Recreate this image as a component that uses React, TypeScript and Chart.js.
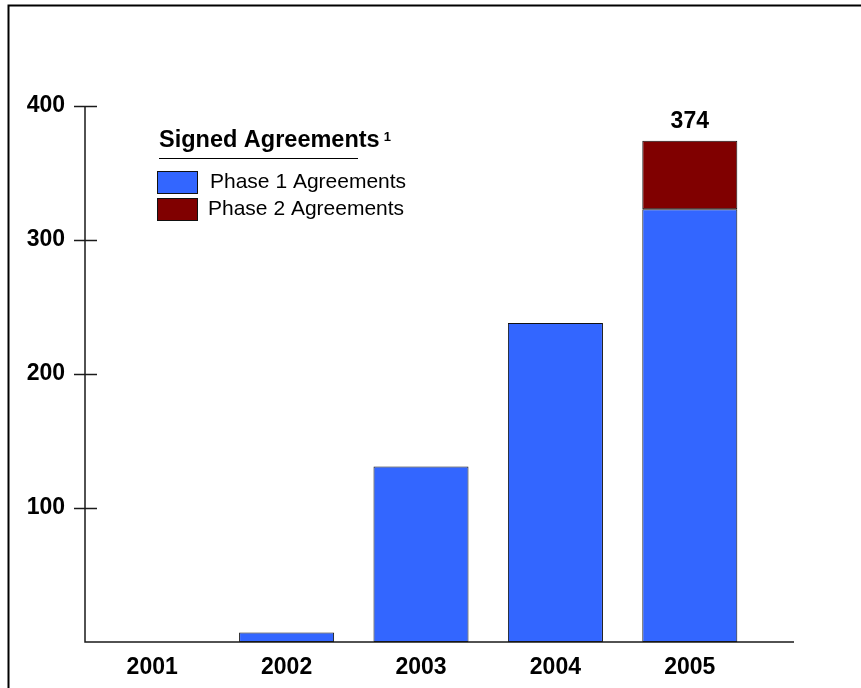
import React, { useEffect, useRef } from "react";
import { Chart, registerables } from "chart.js";

Chart.register(...registerables);

// Signed agreements per year, split by phase
const YEARS = ["2001", "2002", "2003", "2004", "2005"];
const PHASE_1 = [0, 7, 131, 238, 323];
const PHASE_2 = [null, null, null, null, 51];
const SERIES_NAMES = ["Phase 1 Agreements", "Phase 2 Agreements"];
const SERIES_COLORS = ["#3366FF", "#800000"];
const Y_MAX = 400;
const Y_STEP = 100;
const TOTAL_LABEL_INDEX = 4;
const LEGEND_TITLE = "Signed Agreements";
const LEGEND_NOTE = "1";

const FONT = '"Liberation Sans", Arial, Helvetica, sans-serif';
const W = 861;
const H = 688;

const decorPlugin = {
  id: "decor",
  afterDraw(chart: any) {
    const { ctx, chartArea, scales } = chart;
    const y = scales.y;
    const x = scales.x;
    ctx.save();

    // page frame (left and top edges)
    ctx.strokeStyle = "#000";
    ctx.lineWidth = 2;
    ctx.beginPath();
    ctx.moveTo(8.5, H);
    ctx.lineTo(8.5, 5.5);
    ctx.lineTo(W, 5.5);
    ctx.stroke();

    // axis lines, baseline runs past the last category
    ctx.strokeStyle = "#1a1a1a";
    ctx.lineWidth = 1.5;
    ctx.beginPath();
    ctx.moveTo(chartArea.left, chartArea.top);
    ctx.lineTo(chartArea.left, chartArea.bottom);
    ctx.lineTo(chartArea.right + 37, chartArea.bottom);
    ctx.stroke();

    // tick marks crossing the value axis
    ctx.lineWidth = 1.5;
    y.ticks.forEach((t: any) => {
      if (t.value === 0) return;
      const py = Math.round(y.getPixelForValue(t.value)) + 0.5;
      ctx.beginPath();
      ctx.moveTo(chartArea.left - 11, py);
      ctx.lineTo(chartArea.left + 12, py);
      ctx.stroke();
    });

    // total above the stacked bar
    const total = chart.data.datasets.reduce(
      (s: number, d: any) => s + (d.data[TOTAL_LABEL_INDEX] || 0),
      0
    );
    const bx = x.getPixelForValue(TOTAL_LABEL_INDEX);
    ctx.fillStyle = "#000";
    ctx.font = `bold 23px ${FONT}`;
    ctx.textAlign = "center";
    ctx.textBaseline = "alphabetic";
    ctx.fillText(String(total), bx, y.getPixelForValue(total) - 13);

    // legend block
    ctx.textAlign = "left";
    ctx.font = `bold 23.5px ${FONT}`;
    ctx.fillText(LEGEND_TITLE, 159, 147);
    const tw = ctx.measureText(LEGEND_TITLE).width;
    ctx.font = `bold 13px ${FONT}`;
    ctx.fillText(LEGEND_NOTE, 159 + tw + 4, 141);
    ctx.lineWidth = 1;
    ctx.strokeStyle = "#000";
    ctx.beginPath();
    ctx.moveTo(159, 158.5);
    ctx.lineTo(358, 158.5);
    ctx.stroke();

    chart.data.datasets.forEach((d: any, i: number) => {
      const top = 171 + i * 27;
      ctx.fillStyle = d.backgroundColor;
      ctx.fillRect(157, top, 40, 22);
      ctx.strokeStyle = "#111";
      ctx.strokeRect(157.5, top + 0.5, 40, 22);
      ctx.fillStyle = "#000";
      ctx.font = `21px ${FONT}`;
      ctx.textBaseline = "middle";
      ctx.fillText(d.label, 210 - i * 2, top + 11);
      ctx.textBaseline = "alphabetic";
    });

    ctx.restore();
  },
};

export default function App() {
  const canvasRef = useRef<HTMLCanvasElement | null>(null);

  useEffect(() => {
    if (!canvasRef.current) return;
    const chart = new Chart(canvasRef.current, {
      type: "bar",
      data: {
        labels: YEARS,
        datasets: [
          {
            label: SERIES_NAMES[0],
            data: PHASE_1,
            backgroundColor: SERIES_COLORS[0],
            borderColor: "#111",
            borderWidth: 1,
            borderSkipped: false,
            barPercentage: 0.707,
            categoryPercentage: 1,
          },
          {
            label: SERIES_NAMES[1],
            data: PHASE_2,
            backgroundColor: SERIES_COLORS[1],
            borderColor: "#111",
            borderWidth: 1,
            borderSkipped: false,
            barPercentage: 0.707,
            categoryPercentage: 1,
          },
        ],
      },
      options: {
        responsive: false,
        animation: false,
        devicePixelRatio: 1,
        layout: { padding: { top: 106, right: 104, bottom: 0, left: 0 } },
        plugins: {
          legend: { display: false },
          tooltip: { enabled: false },
        },
        scales: {
          x: {
            stacked: true,
            grid: { display: false, drawTicks: false },
            border: { display: false },
            ticks: {
              color: "#000",
              font: { family: FONT, size: 23, weight: "bold" },
              padding: 12,
            },
            afterFit(scale: any) {
              scale.height = 46;
            },
          },
          y: {
            stacked: true,
            min: 0,
            max: Y_MAX,
            grid: { display: false, drawTicks: false },
            border: { display: false },
            ticks: {
              stepSize: Y_STEP,
              color: "#000",
              font: { family: FONT, size: 23, weight: "bold" },
              padding: 20,
              callback: (v: any) => (v === 0 ? "" : String(v)),
            },
            afterFit(scale: any) {
              scale.width = 85;
            },
          },
        },
      },
      plugins: [decorPlugin],
    });
    return () => chart.destroy();
  }, []);

  return (
    <div style={{ position: "absolute", left: 0, top: 0, width: W, height: H, background: "#fff" }}>
      <canvas ref={canvasRef} width={W} height={H} style={{ display: "block", width: W, height: H }} />
    </div>
  );
}
